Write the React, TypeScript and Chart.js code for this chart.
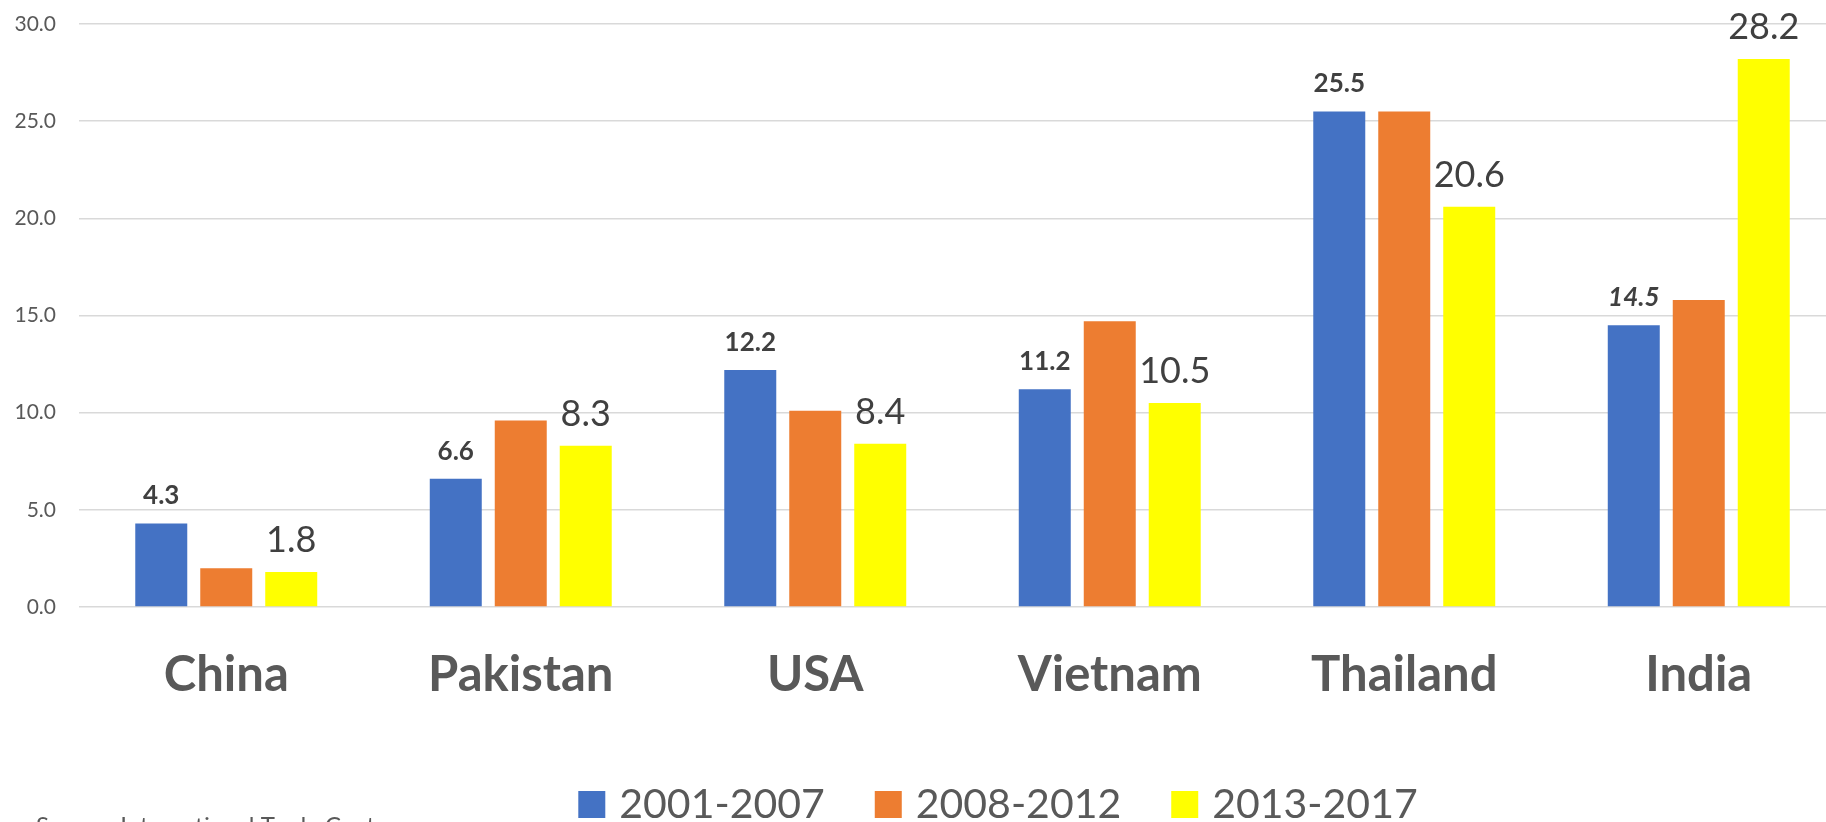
import React, { useEffect, useRef } from "react";
import { Chart, registerables } from "chart.js";

Chart.register(...registerables);

const categories = ["China", "Pakistan", "USA", "Vietnam", "Thailand", "India"];
const seriesNames = ["2001-2007", "2008-2012", "2013-2017"];
const values2001 = [4.3, 6.6, 12.2, 11.2, 25.5, 14.5];
const values2008 = [2.0, 9.6, 10.1, 14.7, 25.5, 15.8];
const values2013 = [1.8, 8.3, 8.4, 10.5, 20.6, 28.2];
const yMin = 0;
const yMax = 30;
const yStep = 5;
const sourceText = "Source: International Trade Centre";

const FONT = "Lato, 'Open Sans', sans-serif";
const colors = ["#4472C4", "#ED7D31", "#FFFF00"];

// label styles per dataset (null = no labels)
const labelStyles: any[] = [
  { size: 26, weight: "bold", color: "#404040", gap: 19, italicIndex: [5] },
  null,
  { size: 36, weight: "normal", color: "#404040", gap: 20, italicIndex: [] },
];

const valueLabelPlugin = {
  id: "valueLabels",
  afterDatasetsDraw(chart: any) {
    const ctx = chart.ctx;
    chart.data.datasets.forEach((ds: any, di: number) => {
      const st = labelStyles[di];
      if (!st) return;
      const meta = chart.getDatasetMeta(di);
      meta.data.forEach((bar: any, i: number) => {
        const v = ds.data[i];
        const italic = st.italicIndex.includes(i) ? "italic " : "";
        ctx.save();
        ctx.font = `${italic}${st.weight} ${st.size}px ${FONT}`;
        ctx.fillStyle = st.color;
        ctx.textAlign = "center";
        ctx.textBaseline = "alphabetic";
        ctx.fillText(v.toFixed(1), bar.x, bar.y - st.gap);
        ctx.restore();
      });
    });
  },
};

const legendPlugin = {
  id: "customLegend",
  afterDraw(chart: any) {
    const ctx = chart.ctx;
    const fontSize = 41;
    const boxW = 27;
    const boxH = 27;
    const textGap = 14;
    const itemGap = 50;
    const centerX = 998;
    const baseline = 818;
    ctx.save();
    ctx.font = `normal ${fontSize}px ${FONT}`;
    const items = chart.data.datasets.map((ds: any) => ({
      label: ds.label,
      color: ds.backgroundColor,
      w: ctx.measureText(ds.label).width,
    }));
    const total =
      items.reduce((s: number, it: any) => s + boxW + textGap + it.w, 0) +
      itemGap * (items.length - 1);
    let x = centerX - total / 2;
    items.forEach((it: any) => {
      ctx.fillStyle = it.color;
      ctx.fillRect(x, baseline - boxH, boxW, boxH);
      x += boxW + textGap;
      ctx.fillStyle = "#595959";
      ctx.textAlign = "left";
      ctx.textBaseline = "alphabetic";
      ctx.fillText(it.label, x, baseline);
      x += it.w + itemGap;
    });
    ctx.font = `normal 24px ${FONT}`;
    ctx.fillStyle = "#595959";
    ctx.textBaseline = "top";
    ctx.fillText(sourceText, 36, 814);
    ctx.restore();
  },
};

export default function App() {
  const canvasRef = useRef<HTMLCanvasElement | null>(null);

  useEffect(() => {
    if (!canvasRef.current) return;
    const chart = new Chart(canvasRef.current, {
      type: "bar",
      data: {
        labels: categories,
        datasets: [
          { label: seriesNames[0], data: values2001, backgroundColor: colors[0] },
          { label: seriesNames[1], data: values2008, backgroundColor: colors[1] },
          { label: seriesNames[2], data: values2013, backgroundColor: colors[2] },
        ].map((d) => ({ ...d, categoryPercentage: 0.662, barPercentage: 0.8, borderWidth: 0 })),
      },
      options: {
        animation: false,
        responsive: true,
        maintainAspectRatio: false,
        layout: { padding: { top: 24, left: 0, right: 0, bottom: 0 } },
        plugins: {
          legend: { display: false },
          tooltip: { enabled: false },
        },
        scales: {
          x: {
            grid: { display: false, drawTicks: false },
            border: { display: false },
            ticks: {
              color: "#595959",
              font: { family: FONT, size: 49, weight: "bold" },
              padding: 39,
            },
            afterFit(scale: any) {
              scale.height = 215;
            },
          },
          y: {
            min: yMin,
            max: yMax,
            grid: { color: "#d9d9d9", lineWidth: 1.6, drawTicks: false },
            border: { display: false },
            ticks: {
              stepSize: yStep,
              color: "#595959",
              font: { family: FONT, size: 21 },
              padding: 23,
              callback: (v: any) => Number(v).toFixed(1),
            },
            afterFit(scale: any) {
              scale.width = 79;
              scale.paddingTop = 0;
              scale.paddingBottom = 0;
            },
          },
        },
      },
      plugins: [valueLabelPlugin, legendPlugin],
    });
    return () => chart.destroy();
  }, []);

  return (
    <div style={{ position: "fixed", left: 0, top: 0, width: 1826, height: 822, overflow: "hidden", background: "#fff" }}>
      <div style={{ position: "relative", width: 1846, height: 822 }}>
        <canvas ref={canvasRef} />
      </div>
    </div>
  );
}
